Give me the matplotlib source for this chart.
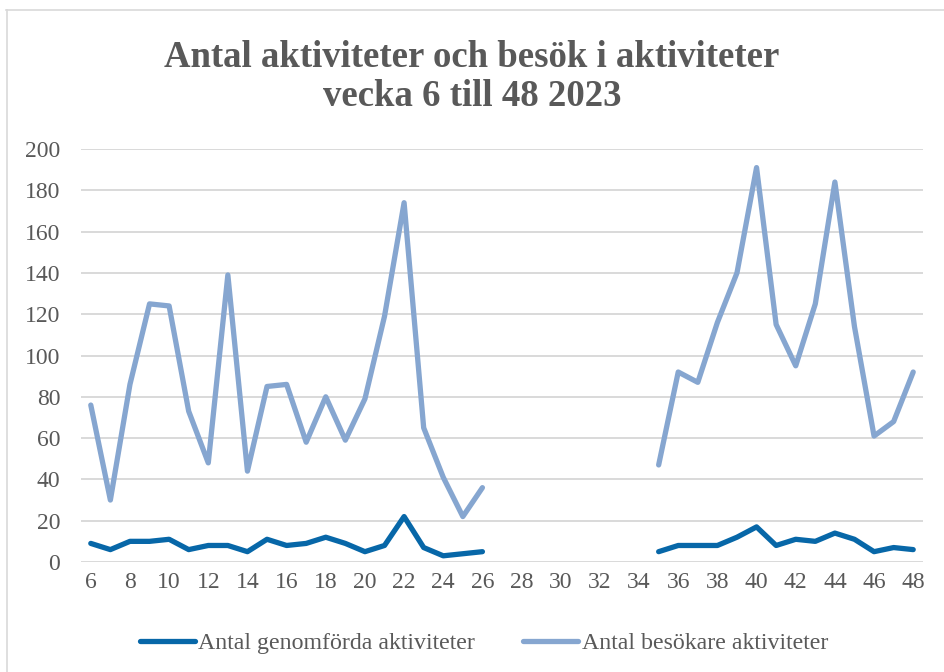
import numpy as np
import matplotlib
matplotlib.use("Agg")
import matplotlib.pyplot as plt
from matplotlib.lines import Line2D

# data: vecka 6 till 48, veckor 27-34 saknas
weeks = list(range(6, 49))
aktiviteter = [9, 6, 10, 10, 11, 6, 8, 8, 5, 11, 8, 9, 12, 9, 5, 8, 22, 7, 3, 4, 5,
               None, None, None, None, None, None, None, None,
               5, 8, 8, 8, 12, 17, 8, 11, 10, 14, 11, 5, 7, 6]
besokare = [76, 30, 86, 125, 124, 73, 48, 139, 44, 85, 86, 58, 80, 59, 79, 119, 174, 65, 41, 22, 36,
            None, None, None, None, None, None, None, None,
            47, 92, 87, 116, 140, 191, 115, 95, 125, 184, 114, 61, 68, 92]
series_names = ["Antal genomförda aktiviteter", "Antal besökare aktiviteter"]
title = "Antal aktiviteter och besök i aktiviteter\nvecka 6 till 48 2023"

dark_blue = "#0767A8"
light_blue = "#86A6D0"
grey_text = "#595959"

plt.rcParams['font.family'] = ['Liberation Serif', 'DejaVu Serif']

fig = plt.figure(figsize=(9.44, 6.72), dpi=100)
ax = fig.add_axes([81/944, 1 - 562/672, (923 - 81)/944, (562 - 149)/672])

akt = np.array([np.nan if v is None else v for v in aktiviteter], dtype=float)
bes = np.array([np.nan if v is None else v for v in besokare], dtype=float)
ax.plot(weeks, akt, color=dark_blue, lw=3.8, solid_capstyle='round', solid_joinstyle='round')
ax.plot(weeks, bes, color=light_blue, lw=3.8, solid_capstyle='round', solid_joinstyle='round')

ax.set_xlim(5.5, 48.5)
ax.set_ylim(0, 200)
ax.set_xticks(range(6, 49, 2))
ax.set_yticks(range(0, 201, 20))
ax.grid(axis='y', color='#D9D9D9', lw=1.4)
ax.set_axisbelow(True)
for s in ax.spines.values():
    s.set_visible(False)
ax.tick_params(axis='both', length=0, labelsize=17, labelcolor=grey_text)
ax.tick_params(axis='y', pad=15)
ax.tick_params(axis='x', pad=7)

fig.text(0.5, 1 - 77/672, title, ha='center', va='center', fontsize=26.5,
         fontweight='bold', color=grey_text, linespacing=1.14)

handles = [Line2D([], [], color=dark_blue, lw=3.8, solid_capstyle='round'),
           Line2D([], [], color=light_blue, lw=3.8, solid_capstyle='round')]
leg = fig.legend(handles, series_names, loc='center', bbox_to_anchor=(0.5 + 12/944, 1 - 643/672),
                 ncol=2, frameon=False, fontsize=17.2, handlelength=2.3, handletextpad=0.15,
                 columnspacing=2.0)
for t in leg.get_texts():
    t.set_color(grey_text)

# ram runt diagrammet
fig.add_artist(Line2D([6/944, 1], [1 - 10/672, 1 - 10/672], transform=fig.transFigure,
                      color='#D9D9D9', lw=1.2))
fig.add_artist(Line2D([6.5/944, 6.5/944], [0, 1 - 10/672], transform=fig.transFigure,
                      color='#D9D9D9', lw=1.2))

fig.savefig("out.png", dpi=100)
